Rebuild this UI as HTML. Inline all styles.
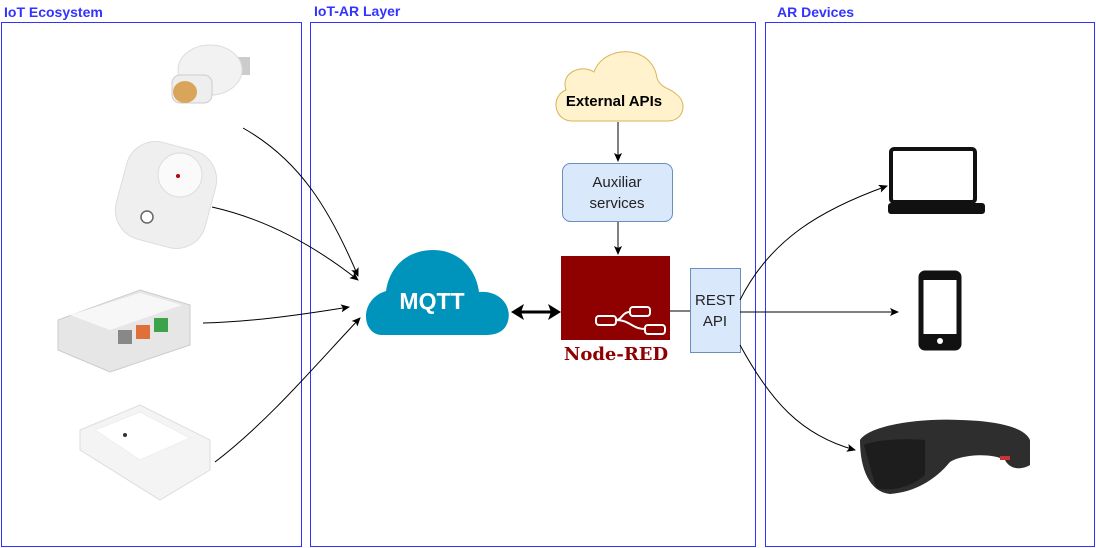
<!DOCTYPE html>
<html><head><meta charset="utf-8"><style>
html,body{margin:0;padding:0;background:#fff;}
svg{display:block;font-family:"Liberation Sans",sans-serif;}
</style></head><body>
<svg width="1096" height="548" viewBox="0 0 1096 548">
<defs>
<marker id="ah" markerWidth="10" markerHeight="10" refX="8" refY="4" orient="auto" markerUnits="userSpaceOnUse"><path d="M0,0 L9,4 L0,8 L2,4 Z" fill="#000"/></marker>
</defs>
<!-- panels -->
<rect x="1.5" y="22.5" width="300" height="524" fill="none" stroke="#3333ff" stroke-width="1"/>
<rect x="310.5" y="22.5" width="445" height="524" fill="none" stroke="#3333ff" stroke-width="1"/>
<rect x="765.5" y="22.5" width="329" height="524" fill="none" stroke="#3333ff" stroke-width="1"/>
<g font-weight="bold" font-size="14" fill="#3333ff">
<text x="4" y="17">IoT Ecosystem</text>
<text x="314" y="16">IoT-AR Layer</text>
<text x="777" y="17">AR Devices</text>
</g>

<!-- External APIs cloud -->
<path d="M572,121 C554,121 550,96 566,90 C560,72 582,64 594,72 C604,44 652,44 657,78 C660,88 670,88 676,94 C688,102 684,121 668,121 Z" fill="#fff2cc" stroke="#d6b656"/>
<text x="614" y="106" font-size="15" font-weight="bold" text-anchor="middle">External APIs</text>
<line x1="618" y1="122" x2="618" y2="161" stroke="#000" marker-end="url(#ah)"/>
<rect x="562.5" y="163.5" width="110" height="58" rx="8" fill="#dae8fc" stroke="#6c8ebf"/>
<text x="617" y="187" font-size="15" text-anchor="middle" fill="#222">Auxiliar</text>
<text x="617" y="208" font-size="15" text-anchor="middle" fill="#222">services</text>
<line x1="618" y1="222" x2="618" y2="254" stroke="#000" marker-end="url(#ah)"/>

<!-- Node-RED -->
<rect x="561" y="256" width="109" height="84" fill="#8f0000"/>
<g fill="none" stroke="#fff" stroke-width="2">
<rect x="596" y="316" width="20" height="9" rx="3"/>
<rect x="630" y="307" width="20" height="9" rx="3"/>
<rect x="645" y="325" width="20" height="9" rx="3"/>
<path d="M616,320 C622,320 622,312 630,312 M616,320 C630,320 632,329 645,329"/>
</g>
<text x="616" y="360" font-family="DejaVu Serif,serif" font-size="18" font-weight="bold" fill="#8f0000" text-anchor="middle">Node-RED</text>

<!-- REST API -->
<rect x="690.5" y="268.5" width="50" height="84" fill="#dae8fc" stroke="#6c8ebf"/>
<text x="715" y="305" font-size="15" text-anchor="middle" fill="#222">REST</text>
<text x="715" y="326" font-size="15" text-anchor="middle" fill="#222">API</text>
<line x1="670" y1="311" x2="690" y2="311" stroke="#000"/>

<!-- MQTT -->
<path d="M382,335 C362,335 358,300 386,291 C390,264 410,250 433,250 C458,250 476,268 479,292 C500,290 512,306 508,321 C505,332 496,335 485,335 Z" fill="#0093bb"/>
<text x="432" y="309" font-size="23" font-weight="bold" fill="#fff" text-anchor="middle">MQTT</text>
<line x1="520" y1="312" x2="552" y2="312" stroke="#000" stroke-width="3"/>
<path d="M511,312 L524,304 L521,312 L524,320 Z" fill="#000"/>
<path d="M561,312 L548,304 L551,312 L548,320 Z" fill="#000"/>

<!-- arrows -->
<g fill="none" stroke="#000" stroke-width="1">
<path d="M243,128 C300,160 330,210 358,276" marker-end="url(#ah)"/>
<path d="M212,207 C270,220 320,250 358,280" marker-end="url(#ah)"/>
<path d="M203,323 C250,322 300,315 349,307" marker-end="url(#ah)"/>
<path d="M215,462 C270,420 320,360 360,318" marker-end="url(#ah)"/>
<path d="M740,300 C770,240 820,210 887,186" marker-end="url(#ah)"/>
<path d="M740,312 C790,312 850,312 898,312" marker-end="url(#ah)"/>
<path d="M740,345 C770,400 800,435 855,450" marker-end="url(#ah)"/>
</g>

<!-- bulb socket -->
<g>
<rect x="234" y="57" width="16" height="18" fill="#ccc"/>
<ellipse cx="210" cy="70" rx="32" ry="25" fill="#f2f2f2" stroke="#ddd"/>
<rect x="172" y="75" width="40" height="28" rx="8" fill="#eee" stroke="#ccc"/>
<ellipse cx="185" cy="92" rx="12" ry="11" fill="#d8a55a"/>
</g>
<!-- plug -->
<g>
<rect x="120" y="145" width="92" height="100" rx="30" fill="#efefef" stroke="#ddd" transform="rotate(15 166 195)"/>
<circle cx="180" cy="175" r="22" fill="#fafafa" stroke="#ddd"/>
<circle cx="178" cy="176" r="2" fill="#b00"/>
<circle cx="147" cy="217" r="6" fill="#fff" stroke="#666" stroke-width="1.5"/>
</g>
<!-- 4ch relay -->
<g>
<polygon points="58,320 140,290 190,305 190,345 110,372 58,350" fill="#e6e6e6" stroke="#ccc"/>
<polygon points="70,315 140,293 182,305 110,330" fill="#f7f7f7"/>
<rect x="118" y="330" width="14" height="14" fill="#888"/>
<rect x="136" y="325" width="14" height="14" fill="#e0703a"/>
<rect x="154" y="318" width="14" height="14" fill="#3ca34a"/>
</g>
<!-- basic switch -->
<g>
<polygon points="80,430 140,405 210,440 210,470 160,500 80,450" fill="#f4f4f4" stroke="#ddd"/>
<polygon points="95,430 140,412 190,438 140,460" fill="#fff" stroke="#eee"/>
<circle cx="125" cy="435" r="2" fill="#333"/>
</g>

<!-- right devices -->
<rect x="891" y="149" width="84" height="53" rx="3" fill="none" stroke="#111" stroke-width="4"/>
<rect x="888" y="203" width="97" height="11" rx="3" fill="#111"/>
<rect x="921" y="273" width="38" height="75" rx="4" fill="none" stroke="#111" stroke-width="5"/>
<rect x="921" y="273" width="38" height="7" fill="#111"/>
<rect x="921" y="334" width="38" height="14" fill="#111"/>
<circle cx="940" cy="341" r="3" fill="#fff"/>
<!-- headset -->
<g>
<path d="M860,440 C870,425 920,418 960,420 C1000,421 1025,428 1030,440 L1030,465 C1022,470 1010,470 1005,460 C990,452 960,455 950,462 C935,480 915,492 890,494 C870,492 860,470 860,440 Z" fill="#2e2e2e"/>
<path d="M864,445 C875,440 900,438 925,440 L925,475 C910,488 890,492 876,488 Z" fill="#1d1d1d"/>
<rect x="1000" y="456" width="10" height="4" fill="#c33"/>
</g>
</svg>
</body></html>
